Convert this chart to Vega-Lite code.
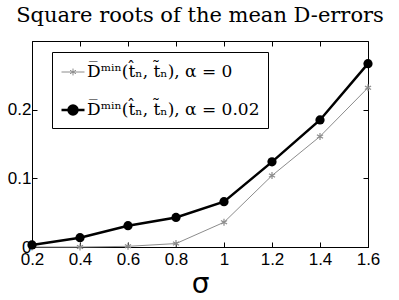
{
  "$schema": "https://vega.github.io/schema/vega-lite/v6.json",
  "autosize": "none",
  "width": 336,
  "height": 206,
  "padding": {"left": 32, "top": 41, "right": 31, "bottom": 53},
  "background": "white",
  "title": {"text": "Square roots of the mean D-errors", "font": "DejaVu Serif", "fontSize": 21, "fontWeight": "normal", "color": "black", "anchor": "middle", "offset": 15},
  "config": {
    "view": {"stroke": "black", "strokeWidth": 1},
    "axis": {"domainColor": "black", "tickColor": "black", "labelColor": "black", "titleColor": "black", "grid": false, "labelFont": "Liberation Sans", "labelFontSize": 17, "tickSize": -5}
  },
  "data": {"values": [
    {"sigma": 0.2, "v": 0.0, "s": "a"},
    {"sigma": 0.4, "v": 0.0, "s": "a"},
    {"sigma": 0.6, "v": 0.001, "s": "a"},
    {"sigma": 0.8, "v": 0.005, "s": "a"},
    {"sigma": 1.0, "v": 0.036, "s": "a"},
    {"sigma": 1.2, "v": 0.104, "s": "a"},
    {"sigma": 1.4, "v": 0.161, "s": "a"},
    {"sigma": 1.6, "v": 0.232, "s": "a"},
    {"sigma": 0.2, "v": 0.003, "s": "b"},
    {"sigma": 0.4, "v": 0.0135, "s": "b"},
    {"sigma": 0.6, "v": 0.031, "s": "b"},
    {"sigma": 0.8, "v": 0.043, "s": "b"},
    {"sigma": 1.0, "v": 0.066, "s": "b"},
    {"sigma": 1.2, "v": 0.124, "s": "b"},
    {"sigma": 1.4, "v": 0.185, "s": "b"},
    {"sigma": 1.6, "v": 0.267, "s": "b"}
  ]},
  "resolve": {"scale": {"x": "independent", "y": "independent"}, "axis": {"x": "independent", "y": "independent"}},
  "layer": [
    {
      "mark": {"type": "point", "opacity": 0},
      "encoding": {
        "x": {"field": "sigma", "type": "quantitative", "scale": {"domain": [0.2, 1.6], "nice": false, "zero": false}, "axis": {"orient": "top", "labels": false, "title": null, "domain": false, "values": [0.2, 0.4, 0.6, 0.8, 1.0, 1.2, 1.4, 1.6]}},
        "y": {"field": "v", "type": "quantitative", "scale": {"domain": [0, 0.3], "nice": false}, "axis": {"orient": "right", "labels": false, "title": null, "domain": false, "values": [0, 0.1, 0.2]}}
      }
    },
    {
      "layer": [
        {
          "mark": {"type": "line"},
          "encoding": {
            "x": {"field": "sigma", "type": "quantitative", "scale": {"domain": [0.2, 1.6], "nice": false, "zero": false}, "axis": {"orient": "bottom", "title": "σ", "titleFont": "DejaVu Sans", "titleFontSize": 28, "titleFontWeight": "normal", "titlePadding": 3, "labelPadding": 9, "values": [0.2, 0.4, 0.6, 0.8, 1.0, 1.2, 1.4, 1.6], "labelExpr": "format(datum.value, '.1~f')", "labelFlush": false}},
            "y": {"field": "v", "type": "quantitative", "scale": {"domain": [0, 0.3], "nice": false}, "axis": {"orient": "left", "title": null, "labelPadding": 6, "values": [0, 0.1, 0.2], "labelExpr": "datum.value == 0 ? '0' : format(datum.value, '.1f')"}},
            "color": {"field": "s", "type": "nominal", "scale": {"domain": ["a", "b"], "range": ["#8c8c8c", "black"]},
              "legend": {"title": null, "orient": "none", "legendX": 20, "legendY": 11, "strokeColor": "black", "fillColor": "white", "padding": 8, "rowPadding": 17, "labelFont": "DejaVu Serif", "labelFontSize": 17, "labelColor": "black", "symbolSize": 529, "symbolStrokeWidth": 1.5, "labelOffset": 1, "labelLimit": 300,
                "labelExpr": "datum.value == 'a' ? 'D̅ᵐⁱⁿ(t̂ₙ, t̃ₙ), α = 0' : 'D̅ᵐⁱⁿ(t̂ₙ, t̃ₙ), α = 0.02'",
                "encode": {"symbols": {"update": {
                  "shape": {"signal": "datum.value == 'a' ? 'M-1,0L1,0M0,-0.3L0,0.3M-0.26,-0.15L0.26,0.15M-0.26,0.15L0.26,-0.15' : 'M-1,0L1,0M-0.39,0A0.39,0.39 0 1,0 0.39,0A0.39,0.39 0 1,0 -0.39,0'"},
                  "fill": {"signal": "datum.value == 'a' ? 'transparent' : 'black'"},
                  "fillOpacity": {"value": 1},
                  "strokeWidth": {"signal": "datum.value == 'a' ? 1 : 2.5"}
                }}}}},
            "strokeWidth": {"field": "s", "type": "nominal", "scale": {"domain": ["a", "b"], "range": [1, 2.5]}, "legend": null}
          }
        },
        {
          "transform": [{"filter": "datum.s == 'a'"}],
          "mark": {"type": "point", "shape": "M0,-1L0,1M-0.87,-0.5L0.87,0.5M-0.87,0.5L0.87,-0.5", "filled": false, "stroke": "#8c8c8c", "strokeWidth": 1.2, "size": 50, "opacity": 1},
          "encoding": {
            "x": {"field": "sigma", "type": "quantitative"},
            "y": {"field": "v", "type": "quantitative"}
          }
        },
        {
          "transform": [{"filter": "datum.s == 'b'"}],
          "mark": {"type": "point", "shape": "circle", "filled": true, "color": "black", "size": 85, "opacity": 1},
          "encoding": {
            "x": {"field": "sigma", "type": "quantitative"},
            "y": {"field": "v", "type": "quantitative"}
          }
        }
      ]
    }
  ]
}
